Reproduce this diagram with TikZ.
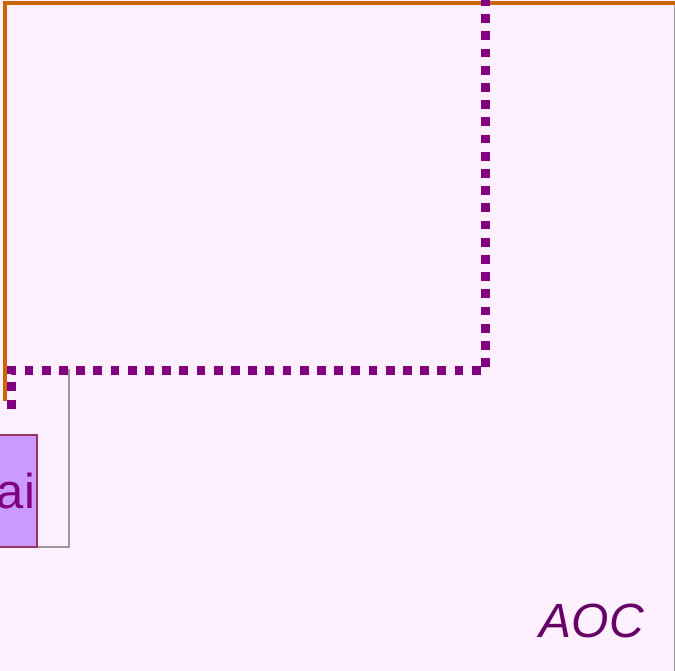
\documentclass[tikz,border=0pt]{standalone}
\usepackage{fontspec}
\setmainfont{Liberation Sans}
\definecolor{bgpink}{HTML}{FFF0FF}
\definecolor{orangeline}{HTML}{CC6600}
\definecolor{dotpurple}{HTML}{800080}
\definecolor{boxfill}{HTML}{CC99FF}
\definecolor{boxedge}{HTML}{993366}
\definecolor{labelpurple}{HTML}{660066}
\definecolor{edgegray}{HTML}{999999}
\tikzset{
  orangewire/.style={draw=orangeline, line width=3.5pt},
  dotwire/.style={draw=dotpurple, line width=9pt, dash pattern=on 8.8pt off 8.4pt},
  graywire/.style={draw=edgegray, line width=1.5pt},
  aibox/.style={draw=boxedge, fill=boxfill, line width=1.5pt, minimum width=42pt, minimum height=112pt,
    text width=38pt, align=right, inner xsep=2pt, inner ysep=0pt, text=dotpurple, font=\fontsize{49}{49}\selectfont},
  aoclabel/.style={text=labelpurple, font=\fontsize{48}{48}\selectfont\itshape, inner sep=0pt, anchor=base east}
}
\begin{document}
\begin{tikzpicture}[x=1pt, y=-1pt]
\useasboundingbox[fill=bgpink] (0,0) rectangle (675,671);
% right gray border
\coordinate (rtop) at (674.4,5);
\coordinate (rbot) at (674.4,671);
\draw[graywire, line width=1.2pt] (rtop) -- (rbot);
% gray partial frame
\coordinate (gl) at (-5,547);
\coordinate (gc) at (69,547);
\coordinate (gt) at (69,369);
\draw[graywire] (gl) -- (gc) -- (gt);
% ai box
\node[aibox] (ai) at (16,491) {ai};
% orange wire
\coordinate (oend) at (5,401);
\coordinate (ocorner) at (5,3);
\coordinate (oright) at (680,3);
\draw[orangewire] (oend) -- (ocorner) -- (oright);
% purple dotted wire
\coordinate (dtop) at (485.5,-3);
\coordinate (dc1) at (485.5,370.5);
\coordinate (dc2) at (11,370.5);
\coordinate (dend) at (11,416);
\draw[dotwire] (dtop) -- (dc1) -- (dc2) -- (dend);
% label
\node[aoclabel] (aoc) at (644,637) {AOC};
\end{tikzpicture}
\end{document}
